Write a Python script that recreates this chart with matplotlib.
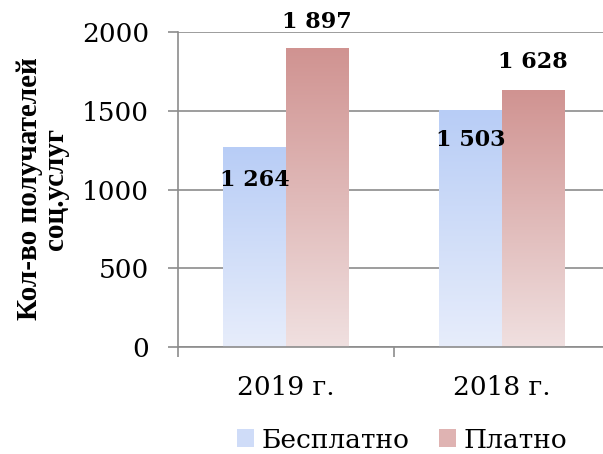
import numpy as np
import matplotlib
matplotlib.use("Agg")
from matplotlib import pyplot as plt
from matplotlib.patches import Patch
from matplotlib.colors import LinearSegmentedColormap

# === DATA ===
years = ["2019 г.", "2018 г."]
free_vals = [1264, 1503]
paid_vals = [1897, 1628]
free_labels = ["1 264", "1 503"]
paid_labels = ["1 897", "1 628"]
# label positions (in data units)
free_label_y = [1060, 1315]
paid_label_y = [2065, 1810]
ylabel_lines = ["Кол-во получателей", "соц.услуг"]

BAR_W = 0.29
GRID_COL = "#8c8c8c"
FS = 19

blue_cmap = LinearSegmentedColormap.from_list("b", ["#e7edfb", "#b8cdf6"])
red_cmap = LinearSegmentedColormap.from_list("r", ["#f0e0e0", "#d09391"])

fig = plt.figure(figsize=(6.03, 4.54), dpi=100)
ax = fig.add_axes([178 / 603, 107 / 454, 432 / 603, 315 / 454])


def grad_bar(x0, h, cmap):
    g = np.linspace(0, 1, 256).reshape(-1, 1)
    ax.imshow(g, cmap=cmap, origin="lower", aspect="auto",
              extent=[x0, x0 + BAR_W, 0, h], zorder=2)


centers = np.arange(len(years)) + 0.5
for i, c in enumerate(centers):
    grad_bar(c - BAR_W, free_vals[i], blue_cmap)
    grad_bar(c, paid_vals[i], red_cmap)
    ax.text(c - BAR_W / 2, free_label_y[i], free_labels[i], ha="center", va="center",
            fontsize=16, fontweight="bold", family="DejaVu Serif", zorder=4)
    ax.text(c + BAR_W / 2, paid_label_y[i], paid_labels[i], ha="center", va="center",
            fontsize=16, fontweight="bold", family="DejaVu Serif", zorder=4)

ax.set_xlim(0, 2)
ax.set_ylim(0, 2000)
ax.set_yticks([0, 500, 1000, 1500, 2000])
ax.set_xticks([0, 1, 2])
ax.set_xticklabels([])
ax.set_xticks(centers, minor=True)
ax.set_xticklabels(years, minor=True)
ax.tick_params(axis="x", which="minor", length=0, pad=20, labelsize=FS)
ax.tick_params(axis="x", which="major", length=7, width=1.2, color=GRID_COL, direction="out")
ax.tick_params(axis="y", length=7, width=1.2, color=GRID_COL, pad=14, labelsize=FS)
for lab in ax.get_xticklabels(minor=True) + ax.get_yticklabels():
    lab.set_family("DejaVu Serif")

ax.grid(axis="y", color=GRID_COL, linewidth=1.2, zorder=1)
ax.set_axisbelow(True)
for s in ["top", "right"]:
    ax.spines[s].set_visible(False)
ax.spines["left"].set_color(GRID_COL)
ax.spines["bottom"].set_color(GRID_COL)
ax.spines["left"].set_linewidth(1.2)
ax.spines["bottom"].set_linewidth(1.2)

# y label: two rotated lines, each centred on the same height
for xp, line in zip([30, 55], ylabel_lines):
    fig.text(xp / 603, 1 - 189 / 454, line, rotation=90, ha="center", va="center",
             fontsize=21, fontweight="bold", family="Liberation Serif")

handles = [Patch(facecolor="#cfdcf8", edgecolor="none"),
           Patch(facecolor="#dfb3b2", edgecolor="none")]
fig.legend(handles, ["Бесплатно", "Платно"], loc="center", bbox_to_anchor=(402 / 603, 1 - 440 / 454),
           ncol=2, frameon=False, prop={"family": "DejaVu Serif", "size": FS},
           handlelength=0.65, handleheight=0.65, handletextpad=0.3, columnspacing=1.1)

plt.savefig("out.png")
